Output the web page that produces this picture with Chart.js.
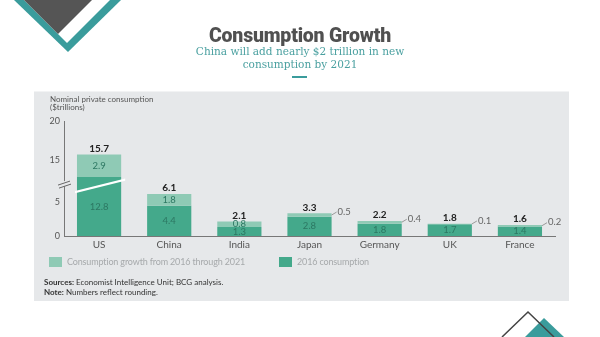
<!DOCTYPE html>
<html>
<head>
<meta charset="utf-8">
<script src="https://cdn.jsdelivr.net/npm/chart.js@4/dist/chart.umd.min.js"></script>
<style>
  body { margin: 0; width: 600px; height: 337px; overflow: hidden; background: #fff; font-family: Lato, sans-serif; position: relative; }
  canvas { position: absolute; left: 0; top: 0; }
  .title { position: absolute; left: 0; top: 25px; width: 600px; text-align: center; font: 900 19.5px/22px Roboto, sans-serif; color: #505050; letter-spacing: -0.2px; }
  .subtitle { position: absolute; left: 0; top: 45px; width: 600px; text-align: center; font: 11.7px/13px "DejaVu Serif Condensed", "DejaVu Serif", serif; color: #4aa0a0; }
  .dash { position: absolute; left: 292px; top: 76px; width: 15px; height: 2px; background: #3a9c9c; }
  .axis-title { position: absolute; left: 50px; top: 95px; font: 8px/8px Lato, sans-serif; color: #555; }
  .legend { position: absolute; left: 49px; top: 256px; display: flex; align-items: center; font: 9px Lato, sans-serif; color: #a6a9ab; letter-spacing: -0.15px; }
  .legend .item { display: flex; align-items: center; margin-right: 34px; }
  .legend .box { width: 13px; height: 10px; margin-right: 5px; }
  .sources { position: absolute; left: 44px; top: 277px; font: 8px/10px Lato, sans-serif; color: #333; }
</style>
</head>
<body>
<canvas id="consumptionChart" width="600" height="337"></canvas>
<div class="title">Consumption Growth</div>
<div class="subtitle">China will add nearly $2 trillion in new<br>consumption by 2021</div>
<div class="dash"></div>
<div class="axis-title">Nominal private consumption<br>($trillions)</div>
<div class="legend" id="legend"></div>
<div class="sources"><b>Sources:</b> Economist Intelligence Unit; BCG analysis.<br><b>Note:</b> Numbers reflect rounding.</div>
<script>
// data
const countries = ['US', 'China', 'India', 'Japan', 'Germany', 'UK', 'France'];
const consumption2016 = [12.8, 4.4, 1.3, 2.8, 1.8, 1.7, 1.4];
const growth = [2.9, 1.8, 0.8, 0.5, 0.4, 0.1, 0.2];
const totals2021 = [15.7, 6.1, 2.1, 3.3, 2.2, 1.8, 1.6];
const yTicks = [0, 5, 15, 20];

// broken axis: values above the break are squeezed down onto the axis
const BREAK_LO = 7.7, BREAK_HI = 12, UPPER_K = 1.13;
function toAxis(v) {
    return v <= BREAK_LO ? v : BREAK_LO + (v - BREAK_HI) * UPPER_K;
}

const lightGreen = '#8fcab5';
const darkGreen = '#44a98b';
const panelColor = '#e6e8ea';

const decorPlugin = {
    id: 'decor',
    beforeDraw(chart) {
        const ctx = chart.ctx;
        ctx.save();
        // gray panel
        ctx.fillStyle = panelColor;
        ctx.fillRect(34, 91.5, 535, 209.5);

        // top-left triangle
        ctx.fillStyle = '#3a9c9c';
        ctx.beginPath();
        ctx.moveTo(14, 0); ctx.lineTo(121, 0); ctx.lineTo(68, 52); ctx.closePath();
        ctx.fill();
        ctx.fillStyle = '#fff';
        ctx.beginPath();
        ctx.moveTo(24, 0); ctx.lineTo(110, 0); ctx.lineTo(67, 43); ctx.closePath();
        ctx.fill();
        ctx.fillStyle = '#555';
        ctx.beginPath();
        ctx.moveTo(24, 0); ctx.lineTo(92, 0); ctx.lineTo(58, 34); ctx.closePath();
        ctx.fill();

        // bottom-right mountains
        ctx.fillStyle = '#3a9c9c';
        ctx.beginPath();
        ctx.moveTo(525, 337); ctx.lineTo(544, 318); ctx.lineTo(564, 337); ctx.closePath();
        ctx.fill();
        ctx.strokeStyle = '#444';
        ctx.lineWidth = 1.5;
        ctx.beginPath();
        ctx.moveTo(502, 337); ctx.lineTo(528, 312); ctx.lineTo(554, 337);
        ctx.stroke();
        ctx.restore();
    },
    afterDraw(chart) {
        const ctx = chart.ctx;
        const yScale = chart.scales.y;
        const growMeta = chart.getDatasetMeta(0);
        const baseMeta = chart.getDatasetMeta(1);
        ctx.save();

        // break marks on the axis and across the US bar
        const axisX = chart.chartArea.left;
        const yb = yScale.getPixelForValue(BREAK_LO) + 1;
        ctx.fillStyle = panelColor;
        ctx.fillRect(axisX - 2, yb - 3, 4, 5);
        ctx.strokeStyle = '#666';
        ctx.lineWidth = 1;
        ctx.beginPath();
        ctx.moveTo(axisX - 6, yb + 1); ctx.lineTo(axisX + 6, yb - 3);
        ctx.moveTo(axisX - 5, yb + 4); ctx.lineTo(axisX + 7, yb);
        ctx.stroke();

        const us = baseMeta.data[0];
        const x0 = us.x - us.width / 2 - 2, x1 = us.x + us.width / 2 + 4;
        const slope = -0.25;
        const yAt = x => yb + 2 + (x - us.x) * slope;
        ctx.fillStyle = '#fff';
        ctx.beginPath();
        ctx.moveTo(x0, yAt(x0) - 1.2); ctx.lineTo(x1, yAt(x1) - 1.2);
        ctx.lineTo(x1, yAt(x1) + 1.2); ctx.lineTo(x0, yAt(x0) + 1.2);
        ctx.closePath();
        ctx.fill();

        // value labels
        ctx.textBaseline = 'middle';
        countries.forEach((c, i) => {
            const g = growMeta.data[i];
            const b = baseMeta.data[i];
            ctx.textAlign = 'center';
            ctx.fillStyle = '#222';
            ctx.font = 'bold 10px Lato, sans-serif';
            ctx.fillText(totals2021[i].toFixed(1), g.x, g.y - 6);

            ctx.font = '9.5px Lato, sans-serif';
            ctx.fillStyle = '#2c7762';
            ctx.fillText(consumption2016[i].toFixed(1), b.x, (b.y + b.base) / 2);

            const gy = (g.y + g.base) / 2;
            if (growth[i] >= 0.6) {
                ctx.fillText(growth[i].toFixed(1), g.x, gy);
            } else {
                const right = g.x + g.width / 2;
                ctx.strokeStyle = '#999';
                ctx.beginPath();
                ctx.moveTo(right, gy); ctx.lineTo(right + 5, gy - 3);
                ctx.stroke();
                ctx.textAlign = 'left';
                ctx.fillStyle = '#666';
                ctx.fillText(growth[i].toFixed(1), right + 6, gy - 3.5);
            }
        });
        ctx.restore();
    }
};

const ctx = document.getElementById('consumptionChart').getContext('2d');
const consumptionChart = new Chart(ctx, {
    type: 'bar',
    data: {
        labels: countries,
        datasets: [{
            label: 'Consumption growth from 2016 through 2021',
            data: countries.map((c, i) => [toAxis(consumption2016[i]), toAxis(totals2021[i])]),
            backgroundColor: lightGreen
        }, {
            label: '2016 consumption',
            data: countries.map((c, i) => [0, toAxis(consumption2016[i])]),
            backgroundColor: darkGreen
        }]
    },
    options: {
        responsive: false,
        animation: false,
        layout: { padding: { left: 34, right: 45, top: 121, bottom: 85 } },
        datasets: {
            bar: { grouped: false, categoryPercentage: 1, barPercentage: 0.63, borderWidth: 0 }
        },
        plugins: {
            legend: { display: false },
            tooltip: { enabled: false }
        },
        scales: {
            x: {
                grid: { display: false, drawTicks: false },
                border: { color: '#777' },
                ticks: { color: '#555', font: { family: 'Lato', size: 10 }, padding: 3 },
                afterFit: s => { s.height = 16; }
            },
            y: {
                min: 0,
                max: toAxis(20),
                grid: { display: false, drawTicks: false },
                border: { color: '#777' },
                afterBuildTicks: s => { s.ticks = yTicks.map(v => ({ value: toAxis(v) })); },
                ticks: {
                    color: '#555',
                    font: { family: 'Lato', size: 9 },
                    padding: 4,
                    callback: (val, i) => yTicks[i]
                },
                afterFit: s => { s.width = 30; }
            }
        }
    },
    plugins: [decorPlugin]
});

// legend built from the datasets
const legendEl = document.getElementById('legend');
consumptionChart.data.datasets.forEach(ds => {
    const item = document.createElement('div');
    item.className = 'item';
    item.innerHTML = '<span class="box" style="background:' + ds.backgroundColor + '"></span>' + ds.label;
    legendEl.appendChild(item);
});
</script>
</body>
</html>
